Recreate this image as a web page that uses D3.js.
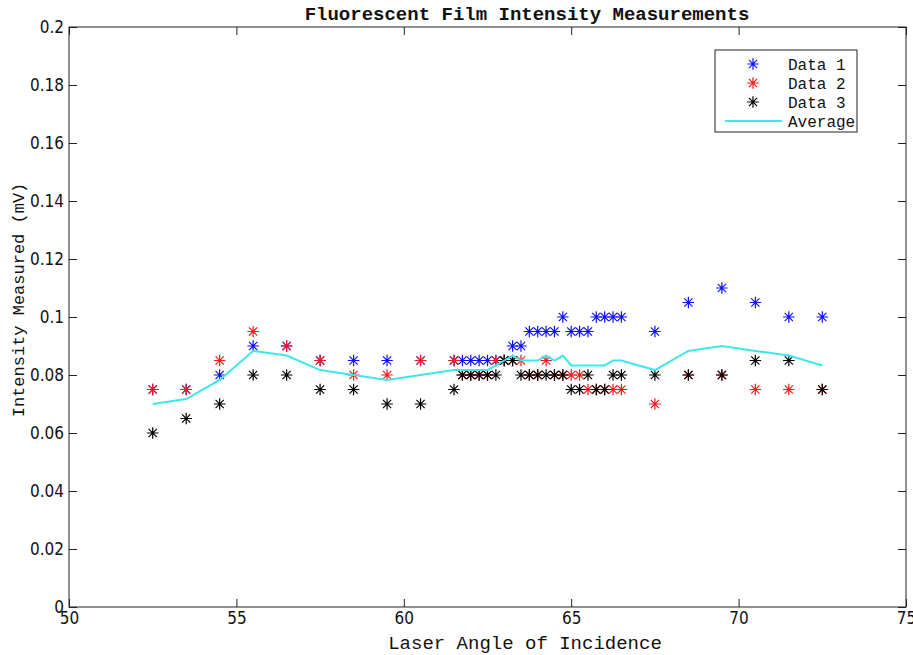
<!DOCTYPE html>
<html>
<head>
<meta charset="utf-8">
<script src="https://cdn.jsdelivr.net/npm/d3@7"></script>
<style>
  html, body { margin: 0; padding: 0; background: #fff; }
  svg { display: block; }
</style>
</head>
<body>
<svg id="chart" width="913" height="655"></svg>
<script>
// Laser angle of incidence (degrees)
const angles = [52.5, 53.5, 54.5, 55.5, 56.5, 57.5, 58.5, 59.5, 60.5, 61.5,
  61.75, 62, 62.25, 62.5, 62.75, 63, 63.25, 63.5, 63.75, 64, 64.25, 64.5, 64.75,
  65, 65.25, 65.5, 65.75, 66, 66.25, 66.5, 67.5, 68.5, 69.5, 70.5, 71.5, 72.5];

// Measured intensity (mV), three trials
const data1 = [0.075, 0.075, 0.08, 0.09, 0.09, 0.085, 0.085, 0.085, 0.085, 0.085,
  0.085, 0.085, 0.085, 0.085, 0.085, 0.085, 0.09, 0.09, 0.095, 0.095, 0.095, 0.095, 0.1,
  0.095, 0.095, 0.095, 0.1, 0.1, 0.1, 0.1, 0.095, 0.105, 0.11, 0.105, 0.1, 0.1];
const data2 = [0.075, 0.075, 0.085, 0.095, 0.09, 0.085, 0.08, 0.08, 0.085, 0.085,
  0.08, 0.08, 0.08, 0.08, 0.085, 0.085, 0.085, 0.085, 0.08, 0.08, 0.085, 0.08, 0.08,
  0.08, 0.08, 0.075, 0.075, 0.075, 0.075, 0.075, 0.07, 0.08, 0.08, 0.075, 0.075, 0.075];
const data3 = [0.06, 0.065, 0.07, 0.08, 0.08, 0.075, 0.075, 0.07, 0.07, 0.075,
  0.08, 0.08, 0.08, 0.08, 0.08, 0.085, 0.085, 0.08, 0.08, 0.08, 0.08, 0.08, 0.08,
  0.075, 0.075, 0.08, 0.075, 0.075, 0.08, 0.08, 0.08, 0.08, 0.08, 0.085, 0.085, 0.075];
// Average of the three trials
const average = [0.07, 0.0717, 0.0783, 0.0883, 0.0867, 0.0817, 0.08, 0.0783, 0.08, 0.0817,
  0.0817, 0.0817, 0.0817, 0.0817, 0.0833, 0.085, 0.0867, 0.085, 0.085, 0.085, 0.0867, 0.085, 0.0867,
  0.0833, 0.0833, 0.0833, 0.0833, 0.0833, 0.085, 0.085, 0.0817, 0.0883, 0.09, 0.0883, 0.0867, 0.0833];

const xTicks = [50, 55, 60, 65, 70, 75];
const xTickLabels = ["50", "55", "60", "65", "70", "75"];
const yTicks = [0, 0.02, 0.04, 0.06, 0.08, 0.1, 0.12, 0.14, 0.16, 0.18, 0.2];
const yTickLabels = ["0", "0.02", "0.04", "0.06", "0.08", "0.1", "0.12", "0.14", "0.16", "0.18", "0.2"];

const seriesNames = ["Data 1", "Data 2", "Data 3", "Average"];
const seriesColors = ["#1010ff", "#f01c1c", "#000000", "#3ee8e8"];

const svg = d3.select("#chart");
const plotLeft = 69, plotRight = 906, plotTop = 27, plotBottom = 607;

const x = d3.scaleLinear().domain([50, 75]).range([plotLeft, plotRight]);
const y = d3.scaleLinear().domain([0, 0.2]).range([plotBottom, plotTop]);

const monoFont = "'Liberation Mono', 'Courier New', monospace";
const tickFont = "'Liberation Sans Narrow', 'DejaVu Sans Condensed', 'Liberation Sans', sans-serif";

// axes with inward ticks on all four sides
function styleAxis(g) {
  g.select(".domain").remove();
  g.selectAll(".tick line").attr("stroke", "#222").attr("stroke-width", 1);
  g.selectAll(".tick text").attr("fill", "#111")
    .style("font-family", tickFont).style("font-size", "17px");
}
svg.append("g").attr("transform", `translate(0,${plotBottom})`)
  .call(d3.axisBottom(x).tickValues(xTicks).tickSize(-8).tickPadding(5)
    .tickFormat((d, i) => xTickLabels[i]))
  .call(styleAxis);
svg.append("g").attr("transform", `translate(0,${plotTop})`)
  .call(d3.axisTop(x).tickValues(xTicks).tickSize(-8).tickFormat(""))
  .call(styleAxis);
svg.append("g").attr("transform", `translate(${plotLeft},0)`)
  .call(d3.axisLeft(y).tickValues(yTicks).tickSize(-8).tickPadding(5)
    .tickFormat((d, i) => yTickLabels[i]))
  .call(styleAxis);
svg.append("g").attr("transform", `translate(${plotRight},0)`)
  .call(d3.axisRight(y).tickValues(yTicks).tickSize(-8).tickFormat(""))
  .call(styleAxis);

svg.append("rect")
  .attr("x", plotLeft).attr("y", plotTop)
  .attr("width", plotRight - plotLeft).attr("height", plotBottom - plotTop)
  .attr("fill", "none").attr("stroke", "#222").attr("stroke-width", 1);

// asterisk marker
function starPath(r) {
  const d = r * 0.707;
  return `M${-r},0H${r}M0,${-r}V${r}M${-d},${-d}L${d},${d}M${-d},${d}L${d},${-d}`;
}
const markerR = 5.8;

[data1, data2, data3].forEach((vals, k) => {
  svg.append("g").selectAll("path")
    .data(angles.map((a, i) => [a, vals[i]]))
    .join("path")
    .attr("transform", d => `translate(${x(d[0])},${y(d[1])})`)
    .attr("d", starPath(markerR))
    .attr("fill", "none")
    .attr("stroke", seriesColors[k])
    .attr("stroke-width", 1.2);
});

const avgLine = d3.line().x((d, i) => x(angles[i])).y(d => y(d));
svg.append("path")
  .datum(average)
  .attr("d", avgLine)
  .attr("fill", "none")
  .attr("stroke", seriesColors[3])
  .attr("stroke-width", 2);

// title and axis labels
svg.append("text")
  .attr("x", 527).attr("y", 20)
  .attr("text-anchor", "middle")
  .style("font-family", monoFont).style("font-size", "19px").style("font-weight", "bold")
  .attr("fill", "#111")
  .text("Fluorescent Film Intensity Measurements");

svg.append("text")
  .attr("x", 525).attr("y", 649)
  .attr("text-anchor", "middle")
  .style("font-family", monoFont).style("font-size", "19px")
  .attr("fill", "#111")
  .text("Laser Angle of Incidence");

svg.append("text")
  .attr("transform", "translate(24,300) rotate(-90)")
  .attr("text-anchor", "middle")
  .style("font-family", monoFont).style("font-size", "17px")
  .attr("fill", "#111")
  .text("Intensity Measured (mV)");

// legend
const legend = svg.append("g");
legend.append("rect")
  .attr("x", 715).attr("y", 50).attr("width", 142).attr("height", 82)
  .attr("fill", "#fff").attr("stroke", "#222").attr("stroke-width", 1);
const rowY = [64, 83, 102, 121];
seriesNames.forEach((name, k) => {
  if (k < 3) {
    legend.append("path")
      .attr("transform", `translate(753,${rowY[k]})`)
      .attr("d", starPath(markerR))
      .attr("fill", "none").attr("stroke", seriesColors[k]).attr("stroke-width", 1.2);
  } else {
    legend.append("line")
      .attr("x1", 725).attr("x2", 782).attr("y1", rowY[k]).attr("y2", rowY[k])
      .attr("stroke", seriesColors[k]).attr("stroke-width", 2);
  }
  legend.append("text")
    .attr("x", 788).attr("y", rowY[k])
    .attr("dy", "0.35em")
    .style("font-family", monoFont).style("font-size", "16px")
    .attr("fill", "#111")
    .text(name);
});
</script>
</body>
</html>
